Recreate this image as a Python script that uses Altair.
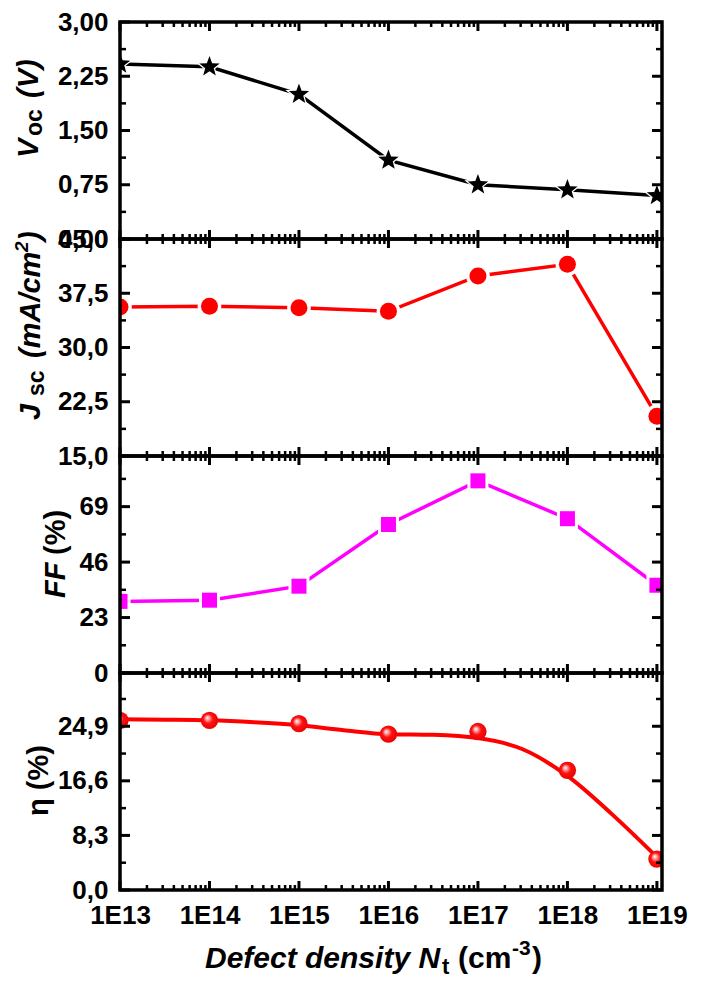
import math
import altair as alt
import pandas as pd

FONT = "Liberation Sans"

# ---------------- data ----------------
density = [1e13, 1e14, 1e15, 1e16, 1e17, 1e18, 1e19]
voc = [2.42, 2.38, 2.00, 1.09, 0.75, 0.68, 0.60]
jsc = [35.6, 35.7, 35.5, 35.0, 39.9, 41.5, 20.5]
ff = [29.7, 30.2, 36.0, 61.6, 79.7, 64.0, 36.4]
eta = [25.8, 25.8, 25.3, 23.7, 24.1, 18.2, 4.7]

# smooth fitted curve of the efficiency panel
fit_density = [1e13, 3.16e13, 1e14, 3.16e14, 1e15, 3.16e15, 1e16,
               3.16e16, 1e17, 3.16e17, 1e18, 3.16e18, 1e19]
eta_fit = [25.95, 25.9, 25.8, 25.5, 25.05, 24.3, 23.7,
           23.6, 23.1, 21.4, 17.35, 11.5, 5.0]

x_major = density
x_minor = [m * 10 ** e for e in range(13, 19) for m in range(2, 10)]

x_label_expr = '"1E" + round(log(datum.value) / LN10)'

W, H = 542, 217
xscale = alt.Scale(type="log", domain=[1e13, 1.14e19], nice=False)

# 5-point star (shape definition in the unit box)
_pts = []
for i in range(10):
    a = math.radians(-90 + 36 * i)
    r = 1.0 if i % 2 == 0 else 0.42
    _pts.append(f"{r * math.cos(a):.3f},{r * math.sin(a):.3f}")
STAR = "M" + "L".join(_pts) + "Z"

sphere = alt.RadialGradient(
    gradient="radial",
    stops=[
        alt.GradientStop(offset=0, color="#ffffff"),
        alt.GradientStop(offset=0.2, color="#ffa0a0"),
        alt.GradientStop(offset=0.45, color="#ff1010"),
        alt.GradientStop(offset=1, color="#e00000"),
    ],
    x1=0.36, y1=0.34, r1=0, x2=0.5, y2=0.5, r2=0.6,
)

one = pd.DataFrame({"a": [0]})


def txt(text, x, y, size, style="normal", dx=0, dy=0, angle=270):
    return alt.Chart(one).mark_text(
        text=text, font=FONT, fontSize=size, fontStyle=style, fontWeight="bold",
        angle=angle, align="left", baseline="alphabetic", dx=dx, dy=dy, color="black",
    ).encode(x=alt.value(x), y=alt.value(y))


def make_xaxis(show):
    if not show:
        return None
    return alt.Axis(values=x_major, labelExpr=x_label_expr, ticks=False, tickSize=0,
                    domain=False, grid=False, labelFont=FONT, labelFontSize=26,
                    labelFontWeight="bold", labelColor="black", labelPadding=12,
                    labelFlush=False, labelOverlap=False, title=None)


def make_yaxis(values, fmt):
    return alt.Axis(
        values=values,
        labelExpr=f"replace(format(datum.value, '{fmt}'), '.', ',')",
        ticks=False, tickSize=0, domain=False, grid=False,
        labelFont=FONT, labelFontSize=26, labelFontWeight="bold", labelColor="black",
        labelPadding=12, labelOverlap=False, title=None,
    )


def tick_layers(yscale, xax, yax, ymajor, yminor):
    layers = []
    for vals, L, sw in ((x_major, 9, 3), (x_minor, 5, 2.5)):
        d = pd.DataFrame({"v": vals})
        base = alt.Chart(d).mark_rule(color="black", strokeWidth=sw)
        layers.append(base.encode(x=alt.X("v:Q", scale=xscale, axis=xax),
                                  y=alt.value(0), y2=alt.value(L)))
        layers.append(base.encode(x=alt.X("v:Q", scale=xscale, axis=xax),
                                  y=alt.value(H - L), y2=alt.value(H)))
    for vals, L, sw in ((ymajor, 10, 3), (yminor, 6, 2.5)):
        d = pd.DataFrame({"v": vals})
        base = alt.Chart(d).mark_rule(color="black", strokeWidth=sw)
        layers.append(base.encode(y=alt.Y("v:Q", scale=yscale, axis=yax),
                                  x=alt.value(0), x2=alt.value(L)))
        layers.append(base.encode(y=alt.Y("v:Q", scale=yscale, axis=yax),
                                  x=alt.value(W - L), x2=alt.value(W)))
    frame = alt.Chart(one).mark_rect(filled=False, stroke="black", strokeWidth=3.5).encode(
        x=alt.value(0), x2=alt.value(W), y=alt.value(0), y2=alt.value(H))
    layers.append(frame)
    return layers


def data_layers(values, yscale, xax, yax, color, shape, size, halo, stroke_w):
    df = pd.DataFrame({"N": density, "v": values})
    enc = dict(x=alt.X("N:Q", scale=xscale, axis=xax),
               y=alt.Y("v:Q", scale=yscale, axis=yax))
    layers = [alt.Chart(df).mark_line(color=color, strokeWidth=stroke_w, clip=True).encode(**enc)]
    if halo:
        layers.append(alt.Chart(df).mark_point(
            shape=shape, size=halo, filled=True, fill="white", opacity=1,
            strokeWidth=0, clip=True).encode(**enc))
    layers.append(alt.Chart(df).mark_point(
        shape=shape, size=size, filled=True, fill=color, opacity=1,
        strokeWidth=0, clip=True).encode(**enc))
    return layers


# ---------------- panel 1 : Voc ----------------
ys1 = alt.Scale(domain=[0, 3], nice=False, zero=False)
xa1, ya1 = make_xaxis(False), make_yaxis([0, 0.75, 1.5, 2.25, 3.0], ".2f")
p1 = alt.layer(
    *data_layers(voc, ys1, xa1, ya1, "black", STAR, 460, 820, 3.5),
    *tick_layers(ys1, xa1, ya1, [0, 0.75, 1.5, 2.25, 3.0], [0.375, 1.125, 1.875, 2.625]),
    txt("V", -82, 136, 29, "italic"),
    txt("oc", -82, 136, 23, "normal", dx=22, dy=4),
    txt("(V)", -82, 136, 29, "italic", dx=60),
).properties(width=W, height=H)

# ---------------- panel 2 : Jsc ----------------
ys2 = alt.Scale(domain=[15, 45], nice=False, zero=False)
xa2, ya2 = make_xaxis(False), make_yaxis([15, 22.5, 30, 37.5, 45], ".1f")
p2 = alt.layer(
    *data_layers(jsc, ys2, xa2, ya2, "#ff0000", "circle", 289, 560, 3.5),
    *tick_layers(ys2, xa2, ya2, [15, 22.5, 30, 37.5, 45], [18.75, 26.25, 33.75, 41.25]),
    txt("J", -80, 181, 29, "italic"),
    txt("sc", -80, 181, 23, "normal", dx=24, dy=4),
    txt("(mA/cm", -80, 181, 29, "italic", dx=62),
    txt("2", -80, 181, 19, "italic", dx=168, dy=-12),
    txt(")", -80, 181, 29, "italic", dx=179),
).properties(width=W, height=H)

# ---------------- panel 3 : FF ----------------
ys3 = alt.Scale(domain=[0, 90], nice=False, zero=False)
xa3, ya3 = make_xaxis(False), make_yaxis([0, 23, 46, 69], "d")
p3 = alt.layer(
    *data_layers(ff, ys3, xa3, ya3, "#ff00ff", "square", 225, 441, 3.5),
    *tick_layers(ys3, xa3, ya3, [0, 23, 46, 69], [11.5, 34.5, 57.5, 80.5]),
    txt("FF", -55, 142, 29, "italic"),
    txt("(%)", -55, 142, 29, "normal", dx=43),
).properties(width=W, height=H)

# ---------------- panel 4 : efficiency ----------------
ys4 = alt.Scale(domain=[0, 33], nice=False, zero=False)
xa4, ya4 = make_xaxis(True), make_yaxis([0, 8.3, 16.6, 24.9], ".1f")
fit_df = pd.DataFrame({"N": fit_density, "v": eta_fit})
eta_df = pd.DataFrame({"N": density, "v": eta})
p4 = alt.layer(
    alt.Chart(fit_df).mark_line(color="#ff0000", strokeWidth=4, interpolate="monotone", clip=True).encode(
        x=alt.X("N:Q", scale=xscale, axis=xa4),
        y=alt.Y("v:Q", scale=ys4, axis=ya4)),
    alt.Chart(eta_df).mark_point(shape="circle", size=300, filled=True, fill=sphere,
                                 opacity=1, strokeWidth=0, clip=True).encode(
        x=alt.X("N:Q", scale=xscale, axis=xa4),
        y=alt.Y("v:Q", scale=ys4, axis=ya4)),
    *tick_layers(ys4, xa4, ya4, [0, 8.3, 16.6, 24.9], [4.15, 12.45, 20.75, 29.05]),
    txt("\u03b7 (%)", -72, 143, 29, "normal"),
    txt("Defect density N", 85, 295, 30, "italic", angle=0),
    txt("t", 85, 295, 22, "normal", dx=237, dy=6, angle=0),
    txt("(cm", 85, 295, 30, "normal", dx=253, angle=0),
    txt("-3", 85, 295, 21, "normal", dx=307, dy=-13, angle=0),
    txt(")", 85, 295, 30, "normal", dx=327, angle=0),
).properties(width=W, height=H)

chart = alt.vconcat(p1, p2, p3, p4, spacing=0, bounds="flush").properties(
    padding={"left": 4, "top": 0, "right": 5, "bottom": 5},
    background="white",
).configure_view(stroke="transparent").configure_axis(grid=False)

chart.save("out.html", embed_options={"renderer": "svg", "actions": False})
